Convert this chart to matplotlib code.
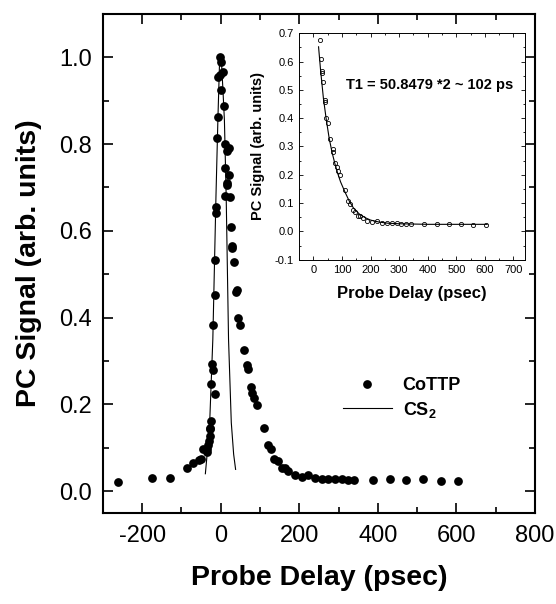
import numpy as np
import matplotlib
matplotlib.use("Agg")
from matplotlib import pyplot as plt
from matplotlib.lines import Line2D
from matplotlib.ticker import MultipleLocator

plt.rcParams['font.family'] = ['Liberation Sans', 'DejaVu Sans']
plt.rcParams['mathtext.fontset'] = 'custom'
plt.rcParams['mathtext.bf'] = 'Liberation Sans:bold'
plt.rcParams['mathtext.rm'] = 'Liberation Sans:bold'
plt.rcParams['mathtext.default'] = 'bf'
plt.rcParams['axes.unicode_minus'] = False

# CoTTP photocurrent signal, probe delay in psec
cottp_t = [-262, -174, -130, -87, -71, -55, -51, -45, -36, -35, -32, -30, -28, -28,
           -26, -25.5, -24, -21, -20, -15, -20, -15, -14.5, -13, -11, -8.5, -6, -7,
           -2.5, -1,
           2, 6, 2, 8, 10, 21, 17, 12, 20, 16, 15, 12, 23, 27, 29, 30, 34, 40, 41,
           44, 50, 59, 67, 70, 76, 81, 85, 93, 111, 120, 128, 137, 145, 155, 163,
           172, 189, 206, 222, 240, 257, 274, 291, 308, 325, 340, 387, 431, 473,
           516, 560, 603]
cottp_s = [0.022, 0.031, 0.030, 0.054, 0.064, 0.072, 0.075, 0.097, 0.097, 0.089,
           0.106, 0.116, 0.127, 0.143, 0.146, 0.162, 0.248, 0.292, 0.279, 0.223,
           0.384, 0.451, 0.533, 0.640, 0.656, 0.815, 0.863, 0.955, 0.959, 1.000,
           0.989, 0.966, 0.925, 0.887, 0.800, 0.792, 0.784, 0.744, 0.729, 0.710,
           0.706, 0.680, 0.677, 0.608, 0.566, 0.560, 0.527, 0.458, 0.463, 0.399,
           0.384, 0.326, 0.290, 0.282, 0.240, 0.226, 0.214, 0.198, 0.146, 0.106,
           0.098, 0.074, 0.070, 0.054, 0.053, 0.047, 0.037, 0.033, 0.037, 0.031,
           0.029, 0.029, 0.028, 0.027, 0.026, 0.026, 0.026, 0.027, 0.025, 0.027,
           0.024, 0.024]

# CS2 reference trace
cs2_t = [-39, -34, -28, -20, -12, -7, -2.5, 0, 2, 6, 9.5, 14, 20, 27, 33, 38]
cs2_s = [0.04, 0.09, 0.158, 0.35, 0.68, 0.86, 1.0, 1.0, 0.99, 0.92, 0.855, 0.68,
         0.35, 0.158, 0.085, 0.05]

# exponential fit shown in the inset
fit_t = [18, 25, 35, 45, 55, 65, 75, 85, 95, 110, 125, 140, 160, 180, 200, 230,
         260, 300, 400, 500, 608]
fit_s = [0.652, 0.57, 0.47, 0.395, 0.33, 0.28, 0.24, 0.205, 0.175, 0.14, 0.108,
         0.083, 0.062, 0.049, 0.040, 0.033, 0.029, 0.027, 0.025, 0.025, 0.025]

fit_text = 'T1 = 50.8479 *2 ~ 102 ps'

fig = plt.figure(figsize=(5.56, 6.04), dpi=100)
ax = fig.add_axes([0.185, 0.151, 0.777, 0.826])

ax.plot(cottp_t, cottp_s, 'o', color='black', markersize=6.3, markeredgewidth=0)
ax.plot(cs2_t, cs2_s, '-', color='black', linewidth=0.8)

ax.set_xlim(-300, 800)
ax.set_ylim(-0.05, 1.1)
ax.xaxis.set_major_locator(MultipleLocator(200))
ax.xaxis.set_minor_locator(MultipleLocator(100))
ax.yaxis.set_major_locator(MultipleLocator(0.2))
ax.yaxis.set_minor_locator(MultipleLocator(0.1))
ax.yaxis.set_major_formatter(lambda v, p: '%.1f' % v)
ax.tick_params(which='both', direction='in', top=True, right=True, width=1.2)
ax.tick_params(which='major', length=7, labelsize=17)
ax.tick_params(which='minor', length=4)
ax.tick_params(axis='x', pad=9)
ax.tick_params(axis='y', pad=8)
for sp in ax.spines.values():
    sp.set_linewidth(1.5)

ax.set_xlabel('Probe Delay (psec)', fontsize=20.5, fontweight='bold')
ax.set_ylabel('PC Signal (arb. units)', fontsize=20.5, fontweight='bold')
ax.xaxis.set_label_coords(0.5, -0.105)
ax.yaxis.set_label_coords(-0.14, 0.5)

handles = [Line2D([], [], marker='o', color='black', linestyle='none',
                  markersize=6.3, markeredgewidth=0),
           Line2D([], [], color='black', linewidth=0.8)]
ax.legend(handles, ['CoTTP', 'CS$_2$'], loc='upper left',
          bbox_to_anchor=(0.556, 0.272), frameon=False, borderpad=0,
          borderaxespad=0, handlelength=2.7, handletextpad=0.6,
          labelspacing=0.3, prop={'size': 13, 'weight': 'bold'})

# inset with the decay fit
ins = fig.add_axes([0.538, 0.570, 0.406, 0.375])
t = np.array(cottp_t)
s = np.array(cottp_s)
keep = t >= 22
ins.plot(t[keep], s[keep], 'o', markerfacecolor='none', markeredgecolor='black',
         markersize=3, markeredgewidth=0.6)
ins.plot(fit_t, fit_s, '-', color='black', linewidth=0.8)
ins.set_xlim(-50, 740)
ins.set_ylim(-0.1, 0.7)
ins.xaxis.set_major_locator(MultipleLocator(100))
ins.xaxis.set_minor_locator(MultipleLocator(50))
ins.yaxis.set_major_locator(MultipleLocator(0.1))
ins.yaxis.set_minor_locator(MultipleLocator(0.05))
ins.yaxis.set_major_formatter(lambda v, p: '%.1f' % v)
ins.tick_params(which='both', direction='in', top=True, right=True, width=0.6,
                labelsize=8, pad=4)
ins.tick_params(which='major', length=3)
ins.tick_params(which='minor', length=1.5)
for sp in ins.spines.values():
    sp.set_linewidth(0.7)
ins.set_xlabel('Probe Delay (psec)', fontsize=12, fontweight='bold')
ins.set_ylabel('PC Signal (arb. units)', fontsize=10.5, fontweight='bold')
ins.xaxis.set_label_coords(0.5, -0.115)
ins.yaxis.set_label_coords(-0.15, 0.5)
ins.text(0.208, 0.771, fit_text, transform=ins.transAxes, va='center',
         fontsize=10.5, fontweight='bold')

fig.savefig('out.png', dpi=100)
